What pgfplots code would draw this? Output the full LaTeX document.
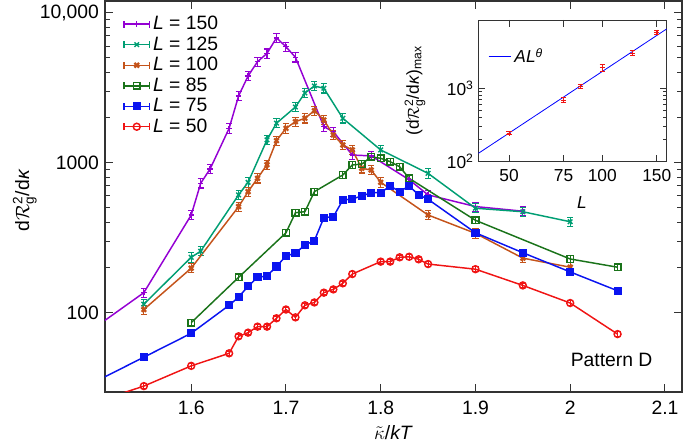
\documentclass[border=0pt]{standalone}
\usepackage{fontspec}
\setmainfont{Liberation Sans}
\usepackage{amsmath}
\usepackage{pgfplots}
\pgfplotsset{compat=1.18}
\definecolor{cpur}{HTML}{9400D3}
\definecolor{cteal}{HTML}{009E73}
\definecolor{corg}{HTML}{C4531A}
\definecolor{cgrn}{HTML}{1A731A}
\definecolor{cblu}{HTML}{0A14F0}
\definecolor{cred}{HTML}{F01414}
\pgfplotsset{
  myerr/.style={error bars/.cd, y dir=both, y fixed relative=#1,
    error bar style={line width=0.8pt, solid},
    error mark=-,
    error mark options={rotate=90, mark size=2.3pt, line width=0.8pt}},
  gplegend/.style={legend image code/.code={
    \draw[mark repeat=2,mark phase=2] plot coordinates {(0cm,0cm)(0.34cm,0cm)(0.68cm,0cm)};
    \draw (0cm,-2.6pt)--(0cm,2.6pt) (0.68cm,-2.6pt)--(0.68cm,2.6pt);}},
}
\begin{document}
\begin{tikzpicture}[font=\fontsize{14.5}{17}\selectfont]
\begin{axis}[
  at={(0pt,0pt)}, anchor=south west,
  scale only axis, width=432.75pt, height=293.25pt,
  xmin=1.509, xmax=2.118, ymode=log, ymin=29.6, ymax=11970,
  xtick={1.6,1.7,1.8,1.9,2.0,2.1}, xticklabels={1.6,1.7,1.8,1.9,2,2.1},
  ytick={100,1000,10000}, yticklabels={100,1000,{10,000}},
  /pgf/number format/assume math mode=true,
  tick align=inside, major tick length=6pt, minor tick length=3.5pt,
  axis line style={line width=0.8pt, black!80},
  every tick/.style={black!80, line width=0.7pt},
  xticklabel style={yshift=-3pt},
  yticklabel style={xshift=-1pt},
  xlabel={$\tilde{\kappa}$/\textit{kT}},
  ylabel={d$\mathcal{R}^{\text{2}}_{\text{g}}$/d\textit{κ}},
  x label style={at={(axis description cs:0.5,-0.105)}, anchor=center},
  y label style={at={(axis description cs:-0.139,0.49)}, anchor=center, rotate=0},
  legend style={at={(axis description cs:0.024,0.975)}, anchor=north west, draw=none, fill=none,
    row sep=-0.2pt, font=\fontsize{14.5}{17}\selectfont},
  legend cell align=left,
  every axis plot/.append style={line width=1.1pt, gplegend},
]
\addplot[cpur, mark=+, mark size=2pt, myerr=0.07] coordinates {
(1.55,136)(1.60,448)(1.61,729)(1.62,910)(1.64,1695)(1.65,2786)(1.66,3785)(1.67,4713)(1.68,5355)(1.69,6800)(1.70,5929)(1.71,5043)(1.74,1738)(1.75,1610)(1.77,1125)(1.79,1110)(1.83,770)(1.85,610)(1.90,510)(1.95,475)};
\addlegendentry{\textit{L} = 150}
\addplot[cteal, mark=x, mark size=2.4pt, myerr=0.07] coordinates {
(1.55,114)(1.60,234)(1.61,257)(1.65,610)(1.66,740)(1.68,1420)(1.69,1834)(1.71,2350)(1.72,2916)(1.73,3245)(1.74,3135)(1.76,1977)(1.80,1216)(1.85,849)(1.90,497)(1.95,471)(2.00,404)};
\addlegendentry{\textit{L} = 125}
\addplot[corg, mark=x, mark size=2.4pt, mark options={line width=1.7pt}, myerr=0.07] coordinates {
(1.55,105)(1.60,198)(1.65,509)(1.66,641)(1.67,787)(1.68,970)(1.69,1403)(1.70,1695)(1.71,1877)(1.72,1977)(1.73,2222)(1.74,1928)(1.75,1530)(1.76,1313)(1.77,1216)(1.78,918)(1.79,893)(1.80,740)(1.85,448)(1.90,338)(1.95,231)(2.00,201)};
\addlegendentry{\textit{L} = 100}
\addplot[cgrn, mark=square, mark size=2.5pt, mark options={solid}, myerr=0.05] coordinates {
(1.60,85.8)(1.65,172)(1.70,341)(1.71,464)(1.72,471)(1.73,641)(1.76,828)(1.77,966)(1.78,979)(1.79,1096)(1.80,1069)(1.81,1016)(1.82,940)(1.83,787)(1.90,413)(2.00,228)(2.05,201)};
\addlegendentry{\textit{L} = 85}
\addplot[cblu, mark=square*, mark size=2.5pt, myerr=0.05] coordinates {
(1.55,50.5)(1.60,72.9)(1.64,112)(1.65,127)(1.66,150)(1.67,172)(1.68,176)(1.69,203)(1.70,239)(1.71,249)(1.72,283)(1.73,302)(1.74,430)(1.75,436)(1.76,564)(1.77,573)(1.78,600)(1.79,631)(1.80,631)(1.81,700)(1.82,641)(1.83,700)(1.84,610)(1.85,570)(1.90,341)(1.95,251)(2.00,187)(2.05,140)};
\addlegendentry{\textit{L} = 75}
\addplot[cred, mark=o, mark size=2.6pt, myerr=0.035] coordinates {
(1.55,32.4)(1.60,44.2)(1.64,53.6)(1.65,69.6)(1.66,73.6)(1.67,80.7)(1.68,80.7)(1.69,91.8)(1.70,105)(1.71,93.1)(1.72,112)(1.73,117)(1.74,136)(1.75,143)(1.76,157)(1.77,181)(1.80,219)(1.81,219)(1.82,234)(1.83,236)(1.84,227)(1.85,211)(1.90,195)(1.95,152)(2.00,116)(2.05,72)};
\addlegendentry{\textit{L} = 50}
\addplot[cpur, no marks, forget plot] coordinates {(1.5,81)(1.55,136)};
\addplot[cblu, no marks, forget plot] coordinates {(1.5,35)(1.55,50.5)};
\addplot[cred, no marks, forget plot] coordinates {(1.5,25.5)(1.55,32.4)};
\node[anchor=center] at (axis description cs:0.878,0.082) {Pattern D};
\end{axis}
\begin{axis}[
  at={(280pt,172.7pt)}, anchor=south west,
  scale only axis, width=141.3pt, height=106.3pt,
  xmode=log, ymode=log, xmin=39.8, xmax=161.5, ymin=100, ymax=8520,
  xtick={50,75,100,150}, xticklabels={50,75,100,150}, minor xtick={},
  ytick={100,1000}, yticklabels={10\textsuperscript{2},10\textsuperscript{3}},
  tick align=inside, major tick length=5pt, minor tick length=3pt,
  axis line style={line width=0.7pt, black!80},
  every tick/.style={black!80, line width=0.6pt},
  axis background/.style={fill=white},
  font=\fontsize{13}{15}\selectfont,
  xticklabel style={yshift=-2pt},
  xlabel={\textit{L}},
  ylabel={(d$\mathcal{R}^{\text{2}}_{\text{g}}$/d\textit{κ})\textsubscript{max}},
  x label style={at={(axis description cs:0.55,-0.29)}, anchor=center},
  y label style={at={(axis description cs:-0.336,0.5)}, anchor=center},
  legend style={at={(axis description cs:0.03,0.84)}, anchor=north west, draw=none, fill=none, font=\fontsize{13}{15}\selectfont},
]
\addplot[blue, line width=0.6pt] coordinates {(39.8,130)(161.5,6450)};
\addlegendentry{\textit{AL}\textsuperscript{\textit{θ}}}
\addplot[cred, only marks, mark=+, mark size=1.8pt, forget plot,
  error bars/.cd, y dir=both, y explicit, error bar style={line width=0.6pt},
  error mark=-, error mark options={rotate=90, mark size=2pt, line width=0.6pt}] coordinates {
(50,244) +- (0,12) (75,695) +- (0,50) (85,1055) +- (0,60) (100,1913) +- (0,200) (125,3013) +- (0,220) (150,5820) +- (0,400)};
\end{axis}
\pgfresetboundingbox
\path (-78.75pt,-39.75pt) rectangle (435pt,294pt);
\end{tikzpicture}
\end{document}
